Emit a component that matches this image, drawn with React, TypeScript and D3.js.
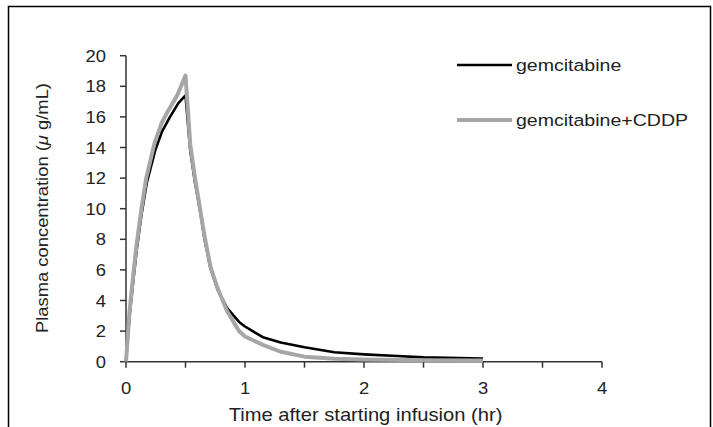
import React from "react";
import * as d3 from "d3";

const seriesNames = ["gemcitabine", "gemcitabine+CDDP"];
const seriesColors = ["#000000", "#a6a6a6"];
const seriesWidths = [2.6, 4];

const gemTime = [0, 0.03, 0.06, 0.09, 0.13, 0.175, 0.245, 0.3, 0.37, 0.44, 0.5, 0.54, 0.58, 0.62, 0.66, 0.71, 0.77, 0.85, 0.95, 1.0, 1.15, 1.3, 1.5, 1.75, 2.0, 2.28, 2.5, 3.0];
const gemConc = [0, 3.0, 5.2, 7.3, 9.6, 11.7, 13.8, 15.0, 16.0, 16.9, 17.4, 13.8, 11.7, 10.0, 8.0, 6.1, 4.7, 3.5, 2.6, 2.3, 1.6, 1.25, 0.95, 0.62, 0.48, 0.37, 0.28, 0.2];

const cddpTime = [0, 0.03, 0.06, 0.09, 0.13, 0.17, 0.24, 0.3, 0.34, 0.43, 0.5, 0.54, 0.58, 0.62, 0.66, 0.71, 0.77, 0.85, 0.95, 1.0, 1.15, 1.3, 1.5, 1.75, 2.0, 2.5, 3.0];
const cddpConc = [0, 3.3, 5.6, 7.7, 10.0, 12.0, 14.3, 15.6, 16.2, 17.4, 18.7, 14.2, 12.0, 10.1, 8.2, 6.2, 4.8, 3.3, 2.0, 1.65, 1.1, 0.65, 0.33, 0.2, 0.15, 0.1, 0.08];

const xTicks = [0, 0.5, 1, 1.5, 2, 2.5, 3, 3.5, 4];
const xTickLabels = ["0", "", "1", "", "2", "", "3", "", "4"];
const yTicks = [0, 2, 4, 6, 8, 10, 12, 14, 16, 18, 20];

const xTitle = "Time after starting infusion (hr)";

export default function App() {
  const W = 713;
  const H = 427;
  const x = d3.scaleLinear().domain([0, 4]).range([126, 602]);
  const y = d3.scaleLinear().domain([0, 20]).range([361.7, 55.7]);
  const line = d3
    .line<[number, number]>()
    .x((d) => x(d[0]))
    .y((d) => y(d[1]))
    .curve(d3.curveLinear);

  const series = [
    gemTime.map((t, i) => [t, gemConc[i]] as [number, number]),
    cddpTime.map((t, i) => [t, cddpConc[i]] as [number, number]),
  ];
  const axisColor = "#333";
  const font = "'Liberation Sans', Arial, sans-serif";
  const sx = 1.15;

  return (
    <svg
      width={W}
      height={H}
      style={{ position: "absolute", left: 0, top: 0, background: "#fff" }}
      fontFamily={font}
    >
      <rect x={8.5} y={6.5} width={702} height={440} fill="none" stroke="#000" strokeWidth={1.5} />

      {/* y axis */}
      <line x1={x(0)} x2={x(0)} y1={y(20)} y2={y(0)} stroke={axisColor} strokeWidth={1.5} />
      {yTicks.map((t) => (
        <g key={"y" + t}>
          <line x1={x(0) - 6} x2={x(0)} y1={y(t)} y2={y(t)} stroke={axisColor} strokeWidth={1.5} />
          <text
            transform={`translate(106,${y(t) + 6}) scale(${sx},1)`}
            textAnchor="end"
            fontSize={16}
            fill="#222"
          >
            {t}
          </text>
        </g>
      ))}

      {/* x axis */}
      <line x1={x(0)} x2={x(4)} y1={y(0)} y2={y(0)} stroke={axisColor} strokeWidth={1.5} />
      {xTicks.map((t, i) => (
        <g key={"x" + t}>
          <line x1={x(t)} x2={x(t)} y1={y(0)} y2={y(0) + 6} stroke={axisColor} strokeWidth={1.5} />
          <text
            transform={`translate(${x(t)},394) scale(${sx},1)`}
            textAnchor="middle"
            fontSize={16}
            fill="#222"
          >
            {xTickLabels[i]}
          </text>
        </g>
      ))}
      <text
        transform={`translate(${(228 + 503) / 2},421) scale(1.12,1)`}
        textAnchor="middle"
        fontSize={18}
        fill="#222"
      >
        {xTitle}
      </text>
      <text
        transform={`translate(48,208) rotate(-90)`}
        textAnchor="middle"
        fontSize={17}
        fill="#222"
        textLength={250}
        lengthAdjust="spacingAndGlyphs"
      >
        Plasma concentration (<tspan fontStyle="italic">μ</tspan> g/mL)
      </text>

      {/* series */}
      {series.map((s, i) => (
        <path
          key={"s" + i}
          d={line(s) || ""}
          fill="none"
          stroke={seriesColors[i]}
          strokeWidth={seriesWidths[i]}
          strokeLinejoin="round"
        />
      ))}

      {/* legend */}
      {seriesNames.map((n, i) => (
        <g key={"l" + i} transform={`translate(0,${65 + i * 55})`}>
          <line x1={457} x2={512} y1={0} y2={0} stroke={seriesColors[i]} strokeWidth={seriesWidths[i]} />
          <text transform={`translate(516,6) scale(${sx},1)`} fontSize={17} fill="#222">
            {n}
          </text>
        </g>
      ))}
    </svg>
  );
}
